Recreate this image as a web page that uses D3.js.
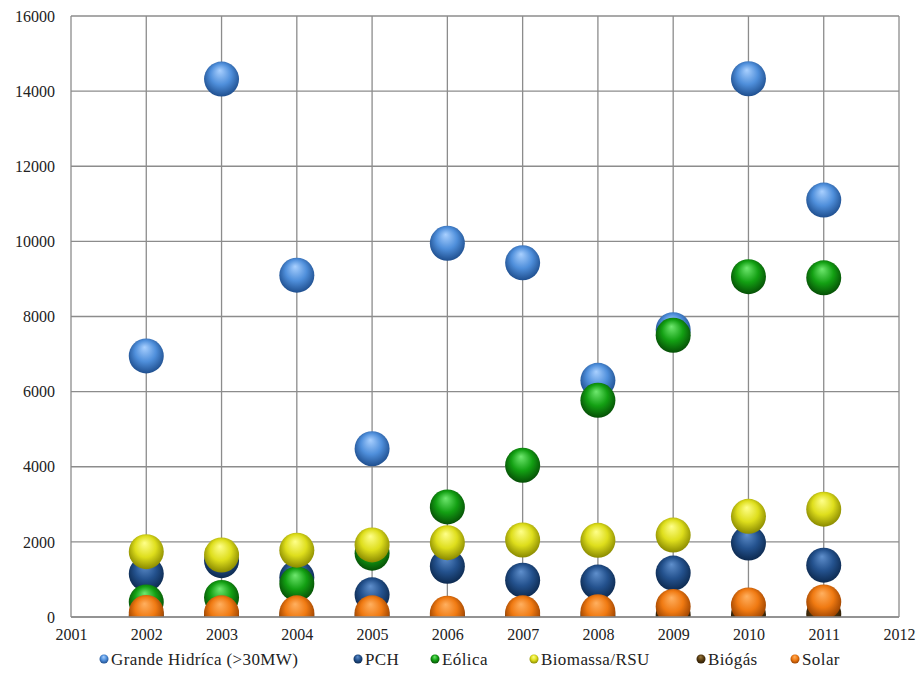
<!DOCTYPE html>
<html><head><meta charset="utf-8">
<script src="https://cdn.jsdelivr.net/npm/d3@7"></script>
<style>body{margin:0;background:#fff}svg{display:block}
text{font-family:"Times New Roman",Times,Tinos,"Liberation Serif","Noto Serif","DejaVu Serif",serif !important;}</style>
</head><body>
<script>
const years = [2002,2003,2004,2005,2006,2007,2008,2009,2010,2011];
const seriesNames = ["Grande Hidríca (>30MW)","PCH","Eólica","Biomassa/RSU","Biógás","Solar"];
const grandeHidrica = [6950,14320,9100,4480,9950,9430,6300,7650,14330,11100];
const pch = [1150,1500,1050,590,1350,980,930,1170,1970,1380];
const eolica = [400,520,880,1700,2930,4040,5770,7500,9060,9030];
const biomassa = [1740,1650,1780,1920,1980,2050,2040,2180,2680,2870];
const biogas = [40,40,40,40,40,40,40,50,60,80];
const solar = [120,110,110,110,100,110,140,280,320,400];
const yTicks = [0,2000,4000,6000,8000,10000,12000,14000,16000];
const xTicks = [2001,2002,2003,2004,2005,2006,2007,2008,2009,2010,2011,2012];
const colors = [
  {hi:"#a9d0ff", base:"#4f8fdb", dark:"#1f4f8f"},
  {hi:"#5f8fcc", base:"#24528e", dark:"#0d2a50"},
  {hi:"#6fe86f", base:"#13a013", dark:"#064f06"},
  {hi:"#ffff8a", base:"#dede1c", dark:"#8a8a00"},
  {hi:"#9a7a40", base:"#5a3d10", dark:"#2a1a04"},
  {hi:"#ffb060", base:"#f07a12", dark:"#9a4200"}
];
const allSeries = [grandeHidrica,pch,eolica,biomassa,biogas,solar];

const W=918,H=693;
const m={left:71,right:19,top:16,bottom:76};
const svg=d3.select("body").append("svg").attr("width",W).attr("height",H);
const defs=svg.append("defs");
colors.forEach((c,i)=>{
  const g=defs.append("radialGradient").attr("id","g"+i)
    .attr("cx","50%").attr("cy","45%").attr("r","55%").attr("fx","45%").attr("fy","25%");
  g.append("stop").attr("offset","0%").attr("stop-color",c.hi);
  g.append("stop").attr("offset","55%").attr("stop-color",c.base);
  g.append("stop").attr("offset","100%").attr("stop-color",c.dark);
});
defs.append("clipPath").attr("id","plotclip").append("rect")
  .attr("x",m.left).attr("y",0).attr("width",W-m.left-m.right+20).attr("height",H-m.bottom);

const x=d3.scaleLinear().domain([2001,2012]).range([m.left,W-m.right]);
const y=d3.scaleLinear().domain([0,16000]).range([H-m.bottom,m.top]);

// grid
svg.append("g").selectAll("line").data(yTicks).join("line")
  .attr("x1",m.left).attr("x2",W-m.right).attr("y1",d=>y(d)).attr("y2",d=>y(d))
  .attr("stroke","#8c8c8c").attr("stroke-width",1.3);
svg.append("g").selectAll("line").data(xTicks).join("line")
  .attr("y1",m.top).attr("y2",H-m.bottom).attr("x1",d=>x(d)).attr("x2",d=>x(d))
  .attr("stroke","#8c8c8c").attr("stroke-width",1.3);

const yAxis=svg.append("g").attr("transform",`translate(${m.left},0)`)
  .call(d3.axisLeft(y).tickValues(yTicks).tickSize(0).tickPadding(16).tickFormat(d3.format("d")));
yAxis.select(".domain").remove();
const xAxis=svg.append("g").attr("transform",`translate(0,${H-m.bottom})`)
  .call(d3.axisBottom(x).tickValues(xTicks).tickSize(0).tickPadding(12).tickFormat(d3.format("d")));
xAxis.select(".domain").remove();
svg.selectAll(".tick text").style("font-size","16px").attr("fill","#222");

// spheres
const plot=svg.append("g").attr("clip-path","url(#plotclip)");
allSeries.forEach((vals,i)=>{
  plot.append("g").selectAll("circle").data(vals).join("circle")
    .attr("cx",(d,j)=>x(years[j])).attr("cy",d=>y(d)).attr("r",17.5)
    .attr("fill",`url(#g${i})`);
});
// redraw axis line on top
svg.append("line").attr("x1",m.left).attr("x2",W-m.right).attr("y1",y(0)).attr("y2",y(0))
  .attr("stroke","#8c8c8c").attr("stroke-width",1.3);

// legend
const legX=[104,358,435,534,701,795];
const lg=svg.append("g");
seriesNames.forEach((n,i)=>{
  lg.append("circle").attr("cx",legX[i]).attr("cy",659).attr("r",4.5).attr("fill",`url(#g${i})`);
  lg.append("text").attr("x",legX[i]+7).attr("y",665).text(n)
    .style("font-size","17px").style("letter-spacing","0.4px").attr("fill","#222");
});
</script>
</body></html>
